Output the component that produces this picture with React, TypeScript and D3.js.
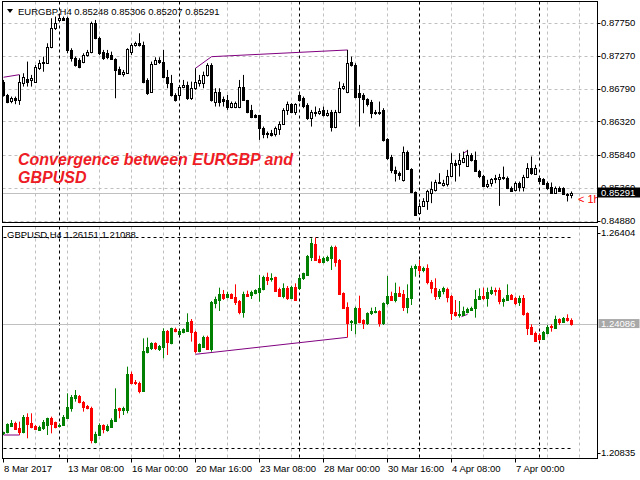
import * as d3 from "d3";

// EURGBP H4 candles: [open, high, low, close]
const eurgbpOHLC = [
  [0.86897, 0.86921, 0.8668, 0.86704], [0.86704, 0.86719, 0.86584, 0.86608], [0.86623, 0.8668, 0.86584, 0.86656],
  [0.86656, 0.8668, 0.8657, 0.86632], [0.86632, 0.86994, 0.8656, 0.86897], [0.86883, 0.87018, 0.86825, 0.8697],
  [0.86931, 0.87187, 0.86825, 0.86897], [0.86921, 0.86994, 0.86825, 0.86945], [0.86897, 0.87138, 0.86883, 0.87114],
  [0.8709, 0.87211, 0.87066, 0.87173], [0.87163, 0.87259, 0.8704, 0.87187], [0.87173, 0.87452, 0.87163, 0.87404],
  [0.87404, 0.87814, 0.8738, 0.87669], [0.87669, 0.87838, 0.87645, 0.87741], [0.8779, 0.87862, 0.8778, 0.87814],
  [0.87814, 0.87838, 0.8778, 0.8779], [0.87814, 0.87838, 0.87307, 0.87356], [0.87356, 0.8738, 0.87187, 0.87235],
  [0.87235, 0.87259, 0.87114, 0.87138], [0.87211, 0.87235, 0.8709, 0.87114], [0.87187, 0.87307, 0.87163, 0.87283],
  [0.87283, 0.87356, 0.87259, 0.87331], [0.87331, 0.87765, 0.87307, 0.87741], [0.87741, 0.8779, 0.8751, 0.87524],
  [0.87524, 0.87548, 0.87283, 0.87307], [0.87331, 0.87356, 0.87211, 0.87235], [0.87307, 0.87356, 0.87221, 0.87259],
  [0.87283, 0.87331, 0.87211, 0.87221], [0.87221, 0.87235, 0.86656, 0.87066], [0.87081, 0.87114, 0.86994, 0.87008],
  [0.87008, 0.87066, 0.8697, 0.87042], [0.87028, 0.8738, 0.87018, 0.87365], [0.87331, 0.87452, 0.87283, 0.87428],
  [0.87428, 0.87476, 0.87404, 0.87452], [0.87452, 0.87597, 0.87404, 0.87428], [0.87428, 0.87476, 0.86873, 0.86897],
  [0.86921, 0.86945, 0.86704, 0.86729], [0.86753, 0.87187, 0.86738, 0.87153], [0.87153, 0.87249, 0.87138, 0.87211],
  [0.87211, 0.87249, 0.87153, 0.87187], [0.87187, 0.87356, 0.86945, 0.8697], [0.8697, 0.87066, 0.86801, 0.86873],
  [0.86873, 0.86994, 0.8668, 0.86704], [0.86704, 0.86729, 0.86608, 0.86632], [0.86704, 0.86849, 0.86632, 0.86815],
  [0.86825, 0.86921, 0.86801, 0.86849], [0.86849, 0.86897, 0.86632, 0.86656], [0.86656, 0.86897, 0.86632, 0.86801],
  [0.86801, 0.8709, 0.86777, 0.86897], [0.86873, 0.86994, 0.86825, 0.86921], [0.86873, 0.87042, 0.86801, 0.86994],
  [0.86994, 0.87163, 0.8697, 0.87138], [0.87138, 0.87163, 0.86608, 0.86632], [0.86608, 0.86801, 0.86536, 0.86753],
  [0.86753, 0.86801, 0.86536, 0.86608], [0.86641, 0.8668, 0.86536, 0.86623], [0.86632, 0.86704, 0.86487, 0.86536],
  [0.86536, 0.86608, 0.86512, 0.86584], [0.86536, 0.86608, 0.86512, 0.86594], [0.86536, 0.86921, 0.86512, 0.86825],
  [0.86825, 0.86994, 0.86622, 0.86632], [0.86632, 0.86632, 0.86439, 0.86463], [0.86487, 0.8656, 0.86367, 0.86391],
  [0.86415, 0.86425, 0.86367, 0.86381], [0.86415, 0.86415, 0.86053, 0.86222], [0.86222, 0.86246, 0.86077, 0.8614],
  [0.8614, 0.86174, 0.86077, 0.8615], [0.8615, 0.86198, 0.86102, 0.8613], [0.8614, 0.86246, 0.86102, 0.86222],
  [0.86217, 0.86319, 0.86126, 0.86285], [0.86285, 0.86512, 0.8627, 0.86487], [0.86487, 0.86608, 0.86415, 0.86574],
  [0.86574, 0.86584, 0.86439, 0.86463], [0.86463, 0.86584, 0.86415, 0.86574], [0.86704, 0.86729, 0.86608, 0.86632],
  [0.86656, 0.8668, 0.86512, 0.86545], [0.8656, 0.86584, 0.86343, 0.86367], [0.86367, 0.86487, 0.86246, 0.86463],
  [0.86463, 0.86536, 0.86391, 0.86449], [0.86449, 0.86512, 0.86415, 0.86478], [0.86487, 0.86536, 0.86391, 0.86415],
  [0.86415, 0.86487, 0.86391, 0.86449], [0.86463, 0.86487, 0.86174, 0.86236], [0.86236, 0.86487, 0.86222, 0.86463],
  [0.86463, 0.86897, 0.86439, 0.86801], [0.86801, 0.86873, 0.86777, 0.86835], [0.86753, 0.87356, 0.86729, 0.87163],
  [0.87187, 0.87259, 0.87114, 0.87138], [0.87138, 0.87163, 0.86656, 0.8668], [0.86729, 0.86849, 0.86246, 0.8668],
  [0.86704, 0.86729, 0.86439, 0.86642], [0.86642, 0.86656, 0.86536, 0.86574], [0.86608, 0.86632, 0.86367, 0.86439],
  [0.86449, 0.86487, 0.86415, 0.86463], [0.86463, 0.86608, 0.86415, 0.86439], [0.86487, 0.86512, 0.86029, 0.86053],
  [0.86063, 0.86077, 0.85764, 0.85788], [0.85812, 0.85836, 0.85571, 0.85619], [0.85619, 0.85667, 0.8545, 0.8558],
  [0.8558, 0.85595, 0.85475, 0.85547], [0.85475, 0.85957, 0.8545, 0.85884], [0.85884, 0.85899, 0.85619, 0.85629],
  [0.85629, 0.85643, 0.85282, 0.85296], [0.85296, 0.85306, 0.84953, 0.84968], [0.84992, 0.85137, 0.84968, 0.85098],
  [0.85098, 0.85209, 0.85089, 0.85161], [0.85161, 0.8533, 0.8504, 0.85306], [0.85291, 0.8545, 0.85137, 0.8534],
  [0.8533, 0.85475, 0.85306, 0.8545], [0.8545, 0.85571, 0.85426, 0.85431], [0.85402, 0.85475, 0.85378, 0.85426],
  [0.85414, 0.85619, 0.85378, 0.85537], [0.85532, 0.8586, 0.85523, 0.85716], [0.85716, 0.85764, 0.8545, 0.85692],
  [0.85706, 0.8586, 0.85523, 0.85755], [0.8574, 0.85884, 0.85716, 0.85788], [0.85677, 0.85909, 0.85667, 0.85836],
  [0.85836, 0.8586, 0.8574, 0.85755], [0.85764, 0.85884, 0.85595, 0.85609], [0.85609, 0.85619, 0.85499, 0.85523],
  [0.85523, 0.85547, 0.85368, 0.85388], [0.85388, 0.85475, 0.85354, 0.85417], [0.85426, 0.85499, 0.85378, 0.85484],
  [0.85484, 0.85547, 0.85426, 0.85494], [0.85484, 0.85561, 0.85098, 0.85513], [0.85513, 0.85667, 0.85475, 0.85499],
  [0.85508, 0.85523, 0.8534, 0.85354], [0.85354, 0.85378, 0.85306, 0.8532], [0.8533, 0.8545, 0.85306, 0.85426],
  [0.85426, 0.8545, 0.85306, 0.85378], [0.85378, 0.85547, 0.85306, 0.85513], [0.85513, 0.85716, 0.85499, 0.85643],
  [0.85643, 0.85812, 0.85547, 0.85571], [0.85561, 0.85692, 0.85547, 0.85643], [0.85499, 0.85523, 0.8545, 0.85465],
  [0.85484, 0.85499, 0.85402, 0.85417], [0.85426, 0.8545, 0.8533, 0.85354], [0.85378, 0.85436, 0.85272, 0.85282],
  [0.85282, 0.85378, 0.85272, 0.85354], [0.85354, 0.85378, 0.85306, 0.85316], [0.85354, 0.85368, 0.85258, 0.85272],
  [0.85272, 0.85282, 0.85161, 0.85248], [0.85248, 0.85306, 0.85207, 0.85291],
];

// GBPUSD H4 candles: [open, high, low, close]
const gbpusdOHLC = [
  [1.2132, 1.21362, 1.21278, 1.21346], [1.21362, 1.21573, 1.2132, 1.21548], [1.21514, 1.21658, 1.21489, 1.21573],
  [1.2159, 1.21616, 1.21405, 1.2143], [1.21464, 1.21616, 1.21278, 1.21346], [1.21362, 1.21784, 1.2132, 1.21742],
  [1.21742, 1.21827, 1.21194, 1.21548], [1.2159, 1.21827, 1.21447, 1.21489], [1.21506, 1.21531, 1.21405, 1.21422],
  [1.21413, 1.21514, 1.21388, 1.21489], [1.21447, 1.21658, 1.21405, 1.21616], [1.21531, 1.21717, 1.21278, 1.217],
  [1.21717, 1.21742, 1.2132, 1.21548], [1.21599, 1.21616, 1.21447, 1.21489], [1.21514, 1.21573, 1.21489, 1.21531],
  [1.21531, 1.21784, 1.21514, 1.21742], [1.21717, 1.22333, 1.217, 1.21995], [1.2197, 1.22291, 1.21869, 1.22248],
  [1.22223, 1.22417, 1.22122, 1.22291], [1.22274, 1.22291, 1.2208, 1.22105], [1.22122, 1.22139, 1.21869, 1.21995],
  [1.22021, 1.22038, 1.21928, 1.21953], [1.2197, 1.21995, 1.21067, 1.21151], [1.21109, 1.21362, 1.21067, 1.21295],
  [1.21278, 1.21573, 1.21261, 1.21531], [1.21531, 1.21548, 1.2132, 1.2143], [1.21405, 1.21548, 1.21362, 1.21514],
  [1.21489, 1.217, 1.21464, 1.21658], [1.21633, 1.22459, 1.21616, 1.21936], [1.21953, 1.2197, 1.217, 1.21911],
  [1.21911, 1.21995, 1.21784, 1.21953], [1.21911, 1.23008, 1.21827, 1.22814], [1.22814, 1.22881, 1.22561, 1.22586],
  [1.22628, 1.2267, 1.22544, 1.22586], [1.22586, 1.22628, 1.22333, 1.22392], [1.22392, 1.23725, 1.22375, 1.23404],
  [1.2337, 1.23742, 1.23345, 1.23514], [1.23472, 1.23624, 1.23429, 1.23598], [1.23598, 1.23624, 1.23429, 1.23472],
  [1.23455, 1.23556, 1.23404, 1.2354], [1.23514, 1.23978, 1.23218, 1.23911], [1.23911, 1.23936, 1.23303, 1.23641],
  [1.23598, 1.23995, 1.23573, 1.23978], [1.23961, 1.23995, 1.23877, 1.23911], [1.23826, 1.23936, 1.23809, 1.23911],
  [1.23877, 1.23978, 1.23852, 1.23961], [1.23911, 1.24358, 1.23894, 1.24147], [1.24164, 1.24214, 1.23641, 1.23877],
  [1.23894, 1.23911, 1.23345, 1.23404], [1.23404, 1.23598, 1.2337, 1.23573], [1.23514, 1.23792, 1.23489, 1.23767],
  [1.23767, 1.23792, 1.23429, 1.23455], [1.23455, 1.2467, 1.23387, 1.24653], [1.24611, 1.2478, 1.24485, 1.24721],
  [1.24696, 1.25008, 1.24417, 1.24847], [1.24847, 1.24949, 1.24696, 1.24738], [1.2478, 1.24906, 1.24738, 1.24839],
  [1.24839, 1.24864, 1.24721, 1.24755], [1.2478, 1.25092, 1.24569, 1.24636], [1.2467, 1.24696, 1.24333, 1.244],
  [1.24383, 1.24906, 1.24248, 1.24847], [1.24847, 1.24932, 1.24789, 1.24805], [1.24822, 1.24932, 1.24721, 1.24906],
  [1.24864, 1.24966, 1.24839, 1.2494], [1.24889, 1.25328, 1.24653, 1.25008], [1.24974, 1.25312, 1.2494, 1.25286],
  [1.25286, 1.25387, 1.25075, 1.25202], [1.25219, 1.25371, 1.2516, 1.25244], [1.25269, 1.25286, 1.24906, 1.24932],
  [1.24966, 1.25008, 1.2478, 1.24805], [1.24805, 1.25117, 1.24738, 1.25008], [1.25008, 1.2505, 1.24696, 1.24738],
  [1.24738, 1.25058, 1.24721, 1.25033], [1.25033, 1.25117, 1.2467, 1.24696], [1.25008, 1.25286, 1.24949, 1.25261],
  [1.25244, 1.25387, 1.25202, 1.25371], [1.25328, 1.25835, 1.25303, 1.25809], [1.25792, 1.26256, 1.25681, 1.2613],
  [1.26113, 1.26273, 1.25691, 1.25708], [1.25733, 1.25818, 1.25624, 1.25666], [1.25666, 1.25792, 1.25624, 1.2575],
  [1.25708, 1.25818, 1.25666, 1.25792], [1.25767, 1.26071, 1.25455, 1.26046], [1.26046, 1.26071, 1.25539, 1.25666],
  [1.25708, 1.25733, 1.24822, 1.24839], [1.24864, 1.24889, 1.24485, 1.24502], [1.24527, 1.24636, 1.2375, 1.24105],
  [1.2413, 1.24189, 1.23911, 1.24164], [1.24105, 1.24527, 1.23826, 1.24502], [1.24502, 1.24805, 1.24105, 1.24147],
  [1.24189, 1.24206, 1.23961, 1.24105], [1.24105, 1.24383, 1.24063, 1.24358], [1.24358, 1.24502, 1.24316, 1.24417],
  [1.244, 1.24519, 1.24358, 1.24417], [1.24417, 1.24434, 1.2402, 1.24105], [1.24105, 1.24636, 1.24063, 1.24611],
  [1.24611, 1.25303, 1.24569, 1.24805], [1.24805, 1.24906, 1.2467, 1.24696], [1.24696, 1.25134, 1.24636, 1.24881],
  [1.24881, 1.25033, 1.2478, 1.24805], [1.24847, 1.24949, 1.24417, 1.24527], [1.24527, 1.25092, 1.24358, 1.24755],
  [1.24738, 1.25564, 1.24569, 1.25514], [1.25497, 1.25598, 1.25286, 1.25564], [1.25564, 1.25708, 1.25345, 1.25455],
  [1.25455, 1.25539, 1.25396, 1.25514], [1.25514, 1.25598, 1.25092, 1.2516], [1.2516, 1.25202, 1.24864, 1.24991],
  [1.25008, 1.25244, 1.24696, 1.24805], [1.24805, 1.24974, 1.24721, 1.24932], [1.24932, 1.25033, 1.24839, 1.24991],
  [1.24974, 1.25008, 1.24636, 1.2478], [1.24805, 1.24822, 1.24189, 1.24358], [1.24383, 1.24696, 1.24274, 1.24316],
  [1.24316, 1.2467, 1.24248, 1.24333], [1.24316, 1.24527, 1.24299, 1.24417], [1.244, 1.24502, 1.24358, 1.24468],
  [1.24442, 1.24527, 1.24417, 1.24502], [1.24485, 1.24949, 1.24248, 1.24721], [1.24721, 1.24991, 1.24696, 1.24805],
  [1.24805, 1.25008, 1.24696, 1.24738], [1.24738, 1.25008, 1.24527, 1.24906], [1.24864, 1.25033, 1.24822, 1.24949],
  [1.24949, 1.25008, 1.24805, 1.24923], [1.24949, 1.25008, 1.24586, 1.2467], [1.2467, 1.24755, 1.24527, 1.24721],
  [1.24696, 1.25092, 1.2467, 1.24822], [1.24822, 1.24847, 1.24696, 1.24721], [1.24738, 1.2478, 1.24569, 1.24611],
  [1.24636, 1.24805, 1.24544, 1.24755], [1.24755, 1.24822, 1.24299, 1.24333], [1.24358, 1.24383, 1.23809, 1.23995],
  [1.2402, 1.2408, 1.23809, 1.23826], [1.23869, 1.23894, 1.23641, 1.23658], [1.23809, 1.23852, 1.23658, 1.23708],
  [1.23708, 1.23911, 1.23683, 1.23877], [1.23852, 1.24063, 1.23826, 1.2402], [1.24046, 1.2408, 1.23894, 1.2402],
  [1.23995, 1.24299, 1.23978, 1.24214], [1.24214, 1.24231, 1.24063, 1.24147], [1.2413, 1.24265, 1.24113, 1.24231],
  [1.24231, 1.24333, 1.24147, 1.24189], [1.24189, 1.24231, 1.24046, 1.24086],
];

// convergence lines: [bar index, price]
const eurgbpLines = [
  [[0, 0.8696], [4, 0.86998]],
  [[48, 0.8709], [52, 0.87258], [86, 0.87355]],
  [[115, 0.8586], [116, 0.85898]],
];
const gbpusdLines = [
  [[0, 1.21278], [4, 1.21278]],
  [[48, 1.23321], [86, 1.23751]],
  [[114.5, 1.24273], [116, 1.24333]],
];

const eurgbpTicks = [0.8775, 0.8727, 0.8679, 0.8632, 0.8584, 0.8536, 0.8488];
const gbpusdTicks = [1.26404, 1.20835];
const gbpusdLevels = [1.26282, 1.20957];
const eurgbpBid = 0.85291;
const gbpusdBid = 1.24086;

const timeBars = [0, 16, 32, 48, 64, 80, 96, 112, 128];
const timeLabels = ["8 Mar 2017", "13 Mar 08:00", "16 Mar 00:00", "20 Mar 16:00", "23 Mar 08:00", "28 Mar 00:00", "30 Mar 16:00", "4 Apr 08:00", "7 Apr 00:00"];
const weekBars = [14, 44, 74, 104, 134];
const gridBars = d3.range(8, 145, 8);

const FONT = "'Liberation Sans', Arial, sans-serif";
const GRID = "#c0c0c0";
const BULL = "#008000";
const BEAR = "#ff0000";

const px = (v: number) => Math.round(v) + 0.5;

export default function App() {
  const left = 2.5;
  const right = 597.5;
  const top1 = 1.5, bot1 = 222.5;
  const top2 = 226.5, bot2 = 458.5;

  const x = d3.scaleLinear().domain([0, 142]).range([3.5, 571.5]);
  const yTop = d3.scaleLinear().domain([0.8488, 0.8775]).range([220.9, 22.7]);
  const yBot = d3.scaleLinear().domain([1.20835, 1.26404]).range([452.5, 232.5]);

  const lineGen = (y: any) =>
    d3.line<number[]>().x((d) => x(d[0])).y((d) => y(d[1]));

  const vGrid = (t: number, b: number) => (
    <g>
      {gridBars.map((i) => (
        <line key={"g" + i} x1={x(i)} x2={x(i)} y1={t} y2={b} stroke={GRID} strokeDasharray="3,3" />
      ))}
      {weekBars.map((i) => (
        <line key={"w" + i} x1={x(i)} x2={x(i)} y1={t} y2={b} stroke="#000" strokeDasharray="3,3" />
      ))}
    </g>
  );

  return (
    <svg width={640} height={480} style={{ position: "fixed", left: 0, top: 0, background: "#fff" }} fontFamily={FONT}>
      <defs>
        <clipPath id="clipTop"><rect x={left} y={top1} width={right - left} height={bot1 - top1} /></clipPath>
        <clipPath id="clipBot"><rect x={left} y={top2} width={right - left} height={bot2 - top2} /></clipPath>
      </defs>
      <rect width={640} height={480} fill="#fff" />

      {/* top panel */}
      <g clipPath="url(#clipTop)">
        {eurgbpTicks.map((t) => (
          <line key={t} x1={left} x2={right} y1={px(yTop(t))} y2={px(yTop(t))} stroke={GRID} strokeDasharray="3,3" />
        ))}
        {vGrid(top1, bot1)}
        <line x1={left} x2={right} y1={px(yTop(eurgbpBid))} y2={px(yTop(eurgbpBid))} stroke={GRID} />
        {eurgbpLines.map((l, k) => (
          <path key={k} d={lineGen(yTop)(l) || ""} fill="none" stroke="#800080" strokeWidth={1} />
        ))}
        {eurgbpOHLC.map(([o, h, l, c], i) => {
          const cx = x(i);
          const bTop = px(yTop(Math.max(o, c)));
          const bBot = px(yTop(Math.min(o, c)));
          return (
            <g key={i}>
              <line x1={cx} x2={cx} y1={yTop(h)} y2={yTop(l)} stroke="#000" />
              <rect x={cx - 1} y={bTop} width={2} height={Math.max(bBot - bTop, 0)}
                fill={c >= o ? "#fff" : "#000"} stroke="#000" />
            </g>
          );
        })}
        <text x={18} y={165} fill="#ee1c25" fontSize={16} fontWeight="bold" fontStyle="italic">Convergence between EURGBP and</text>
        <text x={18} y={183} fill="#ee1c25" fontSize={16} fontWeight="bold" fontStyle="italic">GBPUSD</text>
        <text x={578} y={203} fill="#ff0000" fontSize={11}>&lt; 1h</text>
        <path d="M7,9 L13,9 L10,13 Z" fill="#000" />
        <text x={18} y={15} fontSize={9.5} fill="#000">EURGBP,H4  0.85248 0.85306 0.85207 0.85291</text>
      </g>

      {/* bottom panel */}
      <g clipPath="url(#clipBot)">
        {vGrid(top2, bot2)}
        <line x1={left} x2={right} y1={px(yBot(gbpusdBid))} y2={px(yBot(gbpusdBid))} stroke={GRID} />
        {gbpusdLevels.map((v) => (
          <line key={v} x1={x(0)} x2={x(142)} y1={px(yBot(v))} y2={px(yBot(v))} stroke="#000" strokeDasharray="3,3" />
        ))}
        {gbpusdLines.map((l, k) => (
          <path key={k} d={lineGen(yBot)(l) || ""} fill="none" stroke="#800080" strokeWidth={1} />
        ))}
        {gbpusdOHLC.map(([o, h, l, c], i) => {
          const cx = x(i);
          const col = c >= o ? BULL : BEAR;
          const bTop = px(yBot(Math.max(o, c)));
          const bBot = px(yBot(Math.min(o, c)));
          return (
            <g key={i}>
              <line x1={cx} x2={cx} y1={yBot(h)} y2={yBot(l)} stroke={col} />
              <rect x={cx - 1} y={bTop} width={2} height={Math.max(bBot - bTop, 0)} fill={col} stroke={col} />
            </g>
          );
        })}
        <text x={7} y={238} fontSize={9.5} fill="#000">GBPUSD,H4 1.26151 1.21088</text>
      </g>

      {/* frames */}
      <rect x={left} y={top1} width={right - left} height={bot1 - top1} fill="none" stroke="#000" />
      <rect x={left} y={top2} width={right - left} height={bot2 - top2} fill="none" stroke="#000" />

      {/* price axes */}
      {eurgbpTicks.map((t) => (
        <g key={t}>
          <line x1={right} x2={right + 3} y1={px(yTop(t))} y2={px(yTop(t))} stroke="#000" />
          <text x={601} y={yTop(t)} dy="0.35em" fontSize={9.5} fill="#000">{t.toFixed(5)}</text>
        </g>
      ))}
      <rect x={598} y={yTop(eurgbpBid) - 5} width={42} height={10} fill="#000" />
      <text x={601} y={yTop(eurgbpBid)} dy="0.35em" fontSize={9.5} fill="#fff">{eurgbpBid.toFixed(5)}</text>

      {gbpusdTicks.map((t) => (
        <g key={t}>
          <line x1={right} x2={right + 3} y1={px(yBot(t))} y2={px(yBot(t))} stroke="#000" />
          <text x={601} y={yBot(t)} dy="0.35em" fontSize={9.5} fill="#000">{t.toFixed(5)}</text>
        </g>
      ))}
      <rect x={598.5} y={yBot(gbpusdBid) - 5} width={41} height={9} fill="#a8a8a8" />
      <text x={601} y={yBot(gbpusdBid) - 0.5} dy="0.35em" fontSize={9.5} fill="#fff">{gbpusdBid.toFixed(5)}</text>

      {/* time axis */}
      {timeBars.map((b, k) => (
        <g key={b}>
          <line x1={x(b)} x2={x(b)} y1={bot2} y2={bot2 + 4} stroke="#000" />
          <text x={x(b) + 0.5} y={472} fontSize={9.5} fill="#000">{timeLabels[k]}</text>
        </g>
      ))}
    </svg>
  );
}
